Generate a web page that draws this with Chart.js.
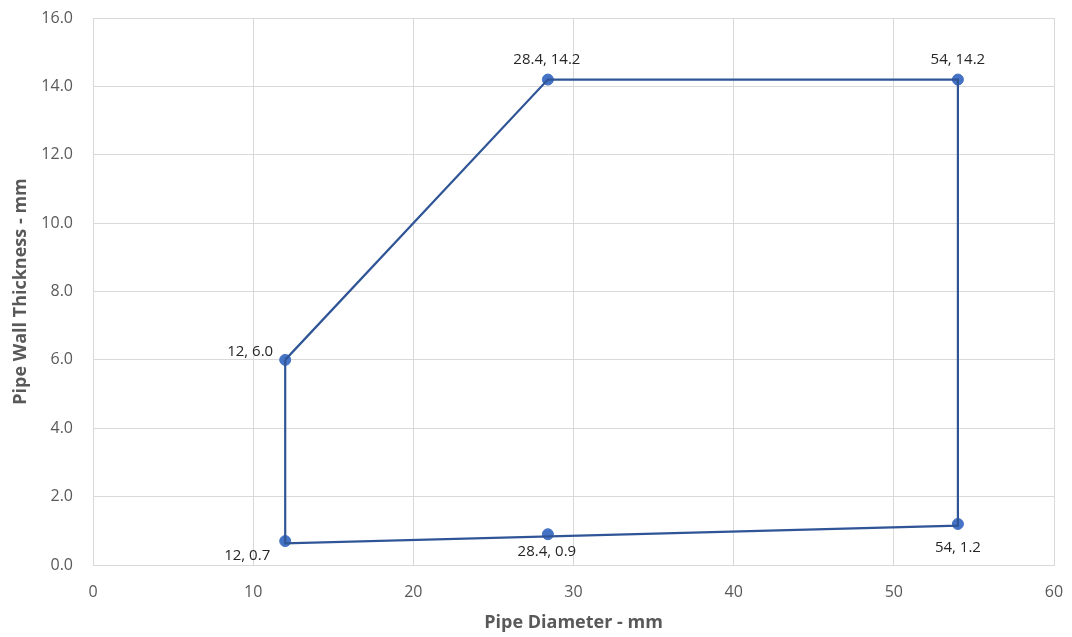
<!DOCTYPE html>
<html>
<head>
<meta charset="utf-8">
<script src="https://cdn.jsdelivr.net/npm/chart.js@4/dist/chart.umd.min.js"></script>
<style>
  html, body { margin: 0; padding: 0; background: #ffffff; }
  #wrap { width: 1072px; height: 637px; position: relative; }
  #c { display: block; }
</style>
</head>
<body>
<div id="wrap"><canvas id="c" width="1072" height="637"></canvas></div>
<script>
// Measured design points: pipe diameter (mm) and wall thickness (mm)
const diameters = [12, 12, 28.4, 54, 54, 28.4];
const thicknesses = [6.0, 0.7, 0.9, 1.2, 14.2, 14.2];
const pointLabels = ['12, 6.0', '12, 0.7', '28.4, 0.9', '54, 1.2', '54, 14.2', '28.4, 14.2'];

// Envelope outline traced around the design window
const envelopeX = [12, 12, 54, 54, 28.4, 12];
const envelopeY = [6.0, 0.63, 1.15, 14.2, 14.2, 6.0];

// Axis ticks
const xTicks = [0, 10, 20, 30, 40, 50, 60];
const yTicks = [0, 2, 4, 6, 8, 10, 12, 14, 16];

// Label placement around each marker (dx, dy in px, text alignment)
const labelPlacement = [
  { dx: -12, dy: -8, align: 'right' },
  { dx: -38, dy: 15, align: 'center' },
  { dx: -1, dy: 18, align: 'center' },
  { dx: 0, dy: 24, align: 'center' },
  { dx: 0, dy: -20, align: 'center' },
  { dx: -1, dy: -20, align: 'center' }
];

const markerData = diameters.map((x, i) => ({ x, y: thicknesses[i] }));
const envelopeData = envelopeX.map((x, i) => ({ x, y: envelopeY[i] }));

const labelPlugin = {
  id: 'pointValueLabels',
  afterDatasetsDraw(chart) {
    const meta = chart.getDatasetMeta(1);
    const ctx = chart.ctx;
    ctx.save();
    ctx.font = '15px "Open Sans", "Liberation Sans", sans-serif';
    ctx.fillStyle = '#262626';
    ctx.textBaseline = 'middle';
    meta.data.forEach((pt, i) => {
      const p = labelPlacement[i];
      ctx.textAlign = p.align;
      ctx.fillText(pointLabels[i], pt.x + p.dx, pt.y + p.dy);
    });
    ctx.restore();
  }
};

const gridColor = '#d9d9d9';
const tickColor = '#595959';

new Chart(document.getElementById('c'), {
  type: 'scatter',
  data: {
    datasets: [
      {
        label: 'Envelope',
        data: envelopeData,
        showLine: true,
        borderColor: '#2f5597',
        borderWidth: 2.2,
        pointRadius: 0,
        pointHoverRadius: 0,
        fill: false,
        tension: 0
      },
      {
        label: 'Design points',
        data: markerData,
        showLine: false,
        backgroundColor: '#4472c4',
        borderColor: '#4472c4',
        pointRadius: 5.5,
        pointHoverRadius: 5.5
      }
    ]
  },
  options: {
    responsive: false,
    animation: false,
    devicePixelRatio: 1,
    layout: { padding: { top: 18, right: 18, bottom: 0, left: 0 } },
    plugins: {
      legend: { display: false },
      tooltip: { enabled: false }
    },
    scales: {
      x: {
        type: 'linear',
        min: 0,
        max: 60,
        afterBuildTicks(scale) { scale.ticks = xTicks.map(v => ({ value: v })); },
        afterFit(scale) {
          scale.height = 72;
          scale.paddingLeft = 0;
          scale.paddingRight = 0;
        },
        grid: { color: gridColor, lineWidth: 1, drawTicks: false },
        border: { color: gridColor, width: 1 },
        ticks: {
          color: tickColor,
          padding: 18,
          font: { family: '"Open Sans", "Liberation Sans", sans-serif', size: 16 }
        },
        title: {
          display: true,
          text: 'Pipe Diameter - mm',
          color: tickColor,
          padding: { top: 0, bottom: 3 },
          font: { family: '"Open Sans", "Liberation Sans", sans-serif', size: 18, weight: 'bold' }
        }
      },
      y: {
        type: 'linear',
        min: 0,
        max: 16,
        afterBuildTicks(scale) { scale.ticks = yTicks.map(v => ({ value: v })); },
        afterFit(scale) {
          scale.width = 93;
          scale.paddingTop = 0;
          scale.paddingBottom = 0;
        },
        grid: { color: gridColor, lineWidth: 1, drawTicks: false },
        border: { color: gridColor, width: 1 },
        ticks: {
          color: tickColor,
          padding: 20,
          font: { family: '"Open Sans", "Liberation Sans", sans-serif', size: 16 },
          callback: v => Number(v).toFixed(1)
        },
        title: {
          display: true,
          text: 'Pipe Wall Thickness - mm',
          color: tickColor,
          padding: { top: 10, bottom: 0 },
          font: { family: '"Open Sans", "Liberation Sans", sans-serif', size: 18, weight: 'bold' }
        }
      }
    }
  },
  plugins: [labelPlugin]
});
</script>
</body>
</html>
